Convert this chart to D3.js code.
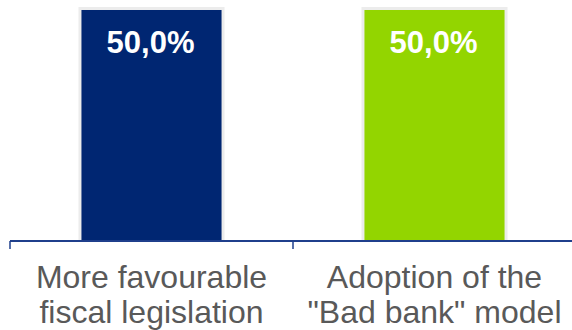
<!DOCTYPE html>
<html>
<head>
<meta charset="utf-8">
<script src="https://cdn.jsdelivr.net/npm/d3@7"></script>
<style>
  html, body { margin: 0; padding: 0; background: #ffffff; }
  svg { display: block; }
</style>
</head>
<body>
<div id="chart"></div>
<script>
// Survey answers and their shares (%)
const categories = ["More favourable fiscal legislation", "Adoption of the \"Bad bank\" model"];
const categoryLines = [["More favourable", "fiscal legislation"], ["Adoption of the", "\"Bad bank\" model"]];
const values = [50.0, 50.0];
const barColors = ["#002672", "#93d500"];

const W = 572, H = 330;
const svg = d3.select("#chart").append("svg").attr("width", W).attr("height", H);

const axisY = 241;
const x = d3.scaleBand().domain(categories).range([10, 576]).padding(0);
const y = d3.scaleLinear().domain([0, 50]).range([axisY, 10]);
const barW = x.bandwidth() * 0.495;
const fmt = v => v.toFixed(1).replace(".", ",") + "%";

const bars = svg.append("g").selectAll("g").data(categories).join("g");

// soft grey edge around each bar
bars.append("rect")
  .attr("x", (d) => x(d) + (x.bandwidth() - barW) / 2 - 3)
  .attr("y", (d, i) => y(values[i]) - 3)
  .attr("width", barW + 6)
  .attr("height", (d, i) => axisY - y(values[i]) + 3)
  .attr("fill", "#ececec");

bars.append("rect")
  .attr("x", (d) => x(d) + (x.bandwidth() - barW) / 2)
  .attr("y", (d, i) => y(values[i]))
  .attr("width", barW)
  .attr("height", (d, i) => axisY - y(values[i]))
  .attr("fill", (d, i) => barColors[i]);

bars.append("text")
  .attr("x", (d) => x(d) + x.bandwidth() / 2 - 1)
  .attr("y", (d, i) => y(values[i]) + 43)
  .attr("text-anchor", "middle")
  .attr("font-family", "Liberation Sans, Arial, sans-serif")
  .attr("font-weight", "bold")
  .attr("font-size", 31)
  .attr("fill", "#ffffff")
  .text((d, i) => fmt(values[i]));

// category axis with tick marks at band boundaries
const axis = svg.append("g");
axis.append("line")
  .attr("x1", x.range()[0]).attr("x2", x.range()[1])
  .attr("y1", axisY).attr("y2", axisY)
  .attr("stroke", "#1f3f8c").attr("stroke-width", 2);
const bounds = categories.map(d => x(d)).concat([x.range()[1]]);
axis.selectAll("line.tick").data(bounds).join("line")
  .attr("class", "tick")
  .attr("x1", d => d).attr("x2", d => d)
  .attr("y1", axisY).attr("y2", axisY + 8)
  .attr("stroke", "#1f3f8c").attr("stroke-width", 1.5);

const labels = svg.append("g").selectAll("text").data(categories).join("text")
  .attr("text-anchor", "middle")
  .attr("font-family", "Liberation Sans, Arial, sans-serif")
  .attr("font-size", 32)
  .attr("fill", "#595959");
labels.selectAll("tspan").data((d, i) => categoryLines[i].map(t => ({t, c: d}))).join("tspan")
  .attr("x", d => x(d.c) + x.bandwidth() / 2)
  .attr("y", (d, j) => 288 + j * 35)
  .text(d => d.t);
</script>
</body>
</html>
